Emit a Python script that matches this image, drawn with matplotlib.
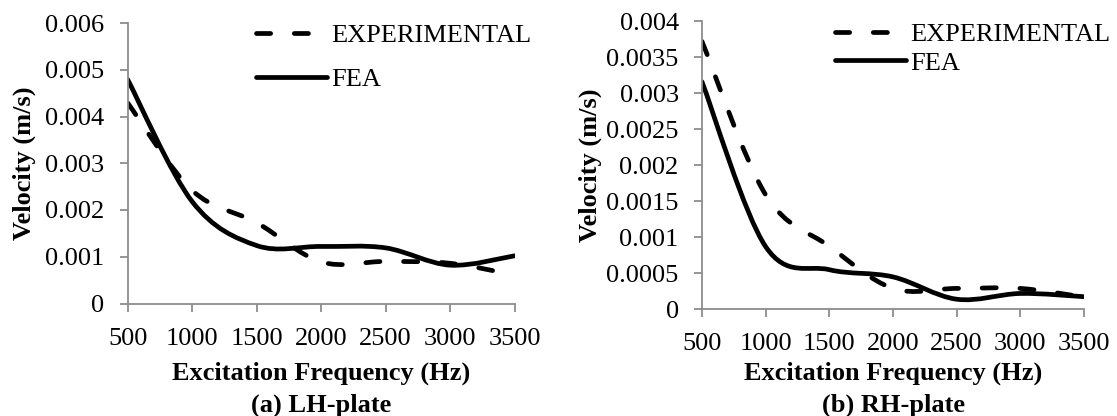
import numpy as np
import matplotlib
matplotlib.use("Agg")
import matplotlib.pyplot as plt
from matplotlib.path import Path
from matplotlib.patches import PathPatch
from matplotlib.lines import Line2D
from matplotlib.ticker import FuncFormatter

# Excitation frequencies (Hz)
freq = [500, 1000, 1500, 2000, 2500, 3000, 3500]

# LH-plate velocities (m/s)
lh_experimental = [0.00429, 0.00242, 0.00173, 0.00089, 0.00090, 0.00086, 0.00061]
lh_fea = [0.00479, 0.00218, 0.00124, 0.00122, 0.00119, 0.00082, 0.00102]

# RH-plate velocities (m/s)
rh_experimental = [0.00372, 0.00159, 0.000875, 0.00029, 0.00029, 0.00029, 0.00017]
rh_fea = [0.00316, 0.00087, 0.00055, 0.00045, 0.00014, 0.00022, 0.000175]

series_labels = ["EXPERIMENTAL", "FEA"]
x_label = "Excitation Frequency (Hz)"
y_label = "Velocity (m/s)"
panel_titles = ["(a) LH-plate", "(b) RH-plate"]
lh_yticks = [0, 0.001, 0.002, 0.003, 0.004, 0.005, 0.006]
rh_yticks = [0, 0.0005, 0.001, 0.0015, 0.002, 0.0025, 0.003, 0.0035, 0.004]
xticks = [500, 1000, 1500, 2000, 2500, 3000, 3500]

plt.rcParams["font.family"] = ["Liberation Serif", "DejaVu Serif"]

W, H = 1117, 416
FS = 19
LW = 3.4
GREY = "#8c8c8c"
DASH = (0, (3.0, 5.0))


def smooth_path(xs, ys):
    """Smoothed line through the points as cubic Bezier segments."""
    pts = np.column_stack([xs, ys]).astype(float)
    n = len(pts)
    verts = [pts[0]]
    codes = [Path.MOVETO]
    for i in range(n - 1):
        p_prev = pts[i - 1] if i > 0 else pts[i]
        p0, p1 = pts[i], pts[i + 1]
        p_next = pts[i + 2] if i + 2 < n else pts[i + 1]
        c1 = p0 + (p1 - p_prev) / 6.0
        c2 = p1 - (p_next - p0) / 6.0
        verts += [c1, c2, p1]
        codes += [Path.CURVE4] * 3
    return Path(np.array(verts), codes)


def draw_panel(ax, exp, fea, yticks):
    ax.add_patch(PathPatch(smooth_path(freq, exp), fill=False, edgecolor="black",
                           linewidth=LW, linestyle=DASH, capstyle="round",
                           joinstyle="round"))
    ax.add_patch(PathPatch(smooth_path(freq, fea), fill=False, edgecolor="black",
                           linewidth=LW, linestyle="solid", capstyle="round",
                           joinstyle="round"))
    ax.set_xlim(xticks[0], xticks[-1])
    ax.set_ylim(yticks[0], yticks[-1])
    ax.set_xticks(xticks)
    ax.set_yticks(yticks)
    ax.yaxis.set_major_formatter(FuncFormatter(lambda v, p: f"{v:g}"))
    for side in ("top", "right"):
        ax.spines[side].set_visible(False)
    for side in ("left", "bottom"):
        ax.spines[side].set_color(GREY)
        ax.spines[side].set_linewidth(1.3)
    ax.tick_params(axis="both", direction="out", length=5.8, width=1.3,
                   color=GREY, labelsize=FS, labelcolor="black")
    ax.tick_params(axis="y", pad=11.0)
    ax.tick_params(axis="x", pad=11.5)


fig = plt.figure(figsize=(W / 100, H / 100), dpi=100)

axL = fig.add_axes([127.7 / W, 1 - 303.5 / H, (514.5 - 127.7) / W, (303.5 - 23) / H])
axR = fig.add_axes([702 / W, 1 - 309.3 / H, (1084 - 702) / W, (309.3 - 21.3) / H])

draw_panel(axL, lh_experimental, lh_fea, lh_yticks)
draw_panel(axR, rh_experimental, rh_fea, rh_yticks)

handles = [Line2D([], [], color="black", linewidth=LW, linestyle=DASH,
                  dash_capstyle="round"),
           Line2D([], [], color="black", linewidth=LW, linestyle="solid",
                  solid_capstyle="round")]

axL.legend(handles, series_labels, loc="upper left",
           bbox_to_anchor=(256 / W, 1 - 23.5 / H), bbox_transform=fig.transFigure,
           frameon=False, fontsize=FS, borderpad=0, borderaxespad=0,
           handlelength=2.7, handletextpad=0.15, labelspacing=0.77)
axR.legend(handles, series_labels, loc="upper left",
           bbox_to_anchor=(835 / W, 1 - 22.5 / H), bbox_transform=fig.transFigure,
           frameon=False, fontsize=FS, borderpad=0, borderaxespad=0,
           handlelength=2.7, handletextpad=0.15, labelspacing=0.2)

for title, cx in ((panel_titles[0], 321), (panel_titles[1], 893)):
    fig.text(cx / W, 1 - 380 / H, x_label, ha="center", va="baseline",
             fontsize=FS, fontweight="bold")
    fig.text(cx / W, 1 - 412 / H, title, ha="center", va="baseline",
             fontsize=FS, fontweight="bold")

fig.text(24 / W, 1 - 163 / H, y_label, rotation=90, ha="center", va="center",
         fontsize=FS, fontweight="bold")
fig.text(590 / W, 1 - 165 / H, y_label, rotation=90, ha="center", va="center",
         fontsize=FS, fontweight="bold")

fig.savefig("out.png", dpi=100)
